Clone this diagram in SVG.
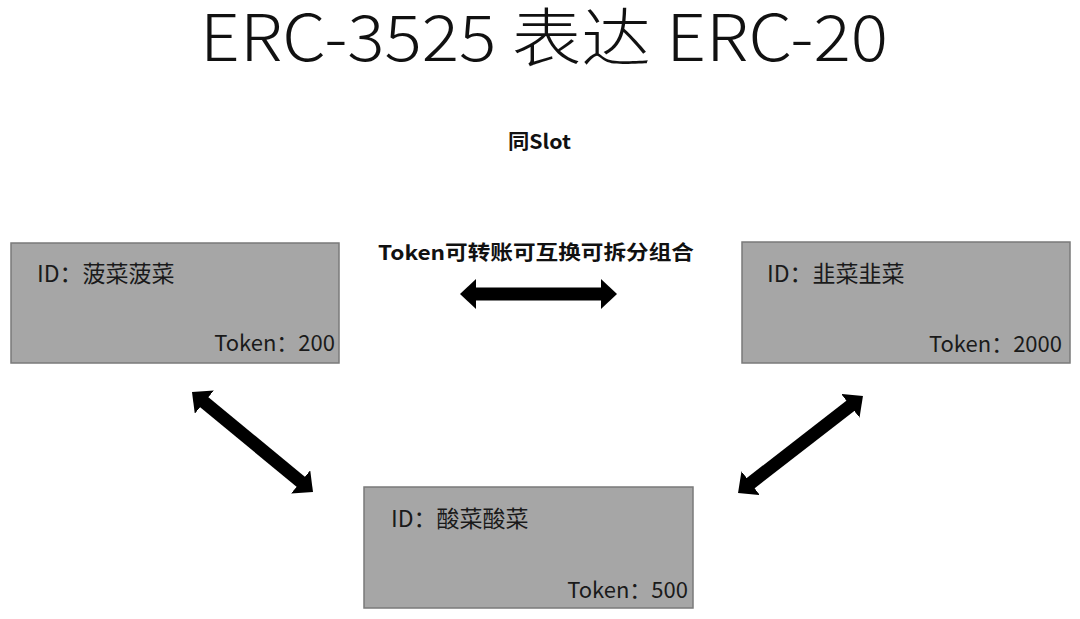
<svg xmlns="http://www.w3.org/2000/svg" width="1080" height="619" viewBox="0 0 1080 619">
<style>
.box{fill:#a6a6a6;stroke:#7a7a7a;stroke-width:1.5}
.t{font-family:"Noto Sans CJK SC","Liberation Sans",sans-serif;font-size:22px;fill:#1a1a1a}
.id{font-size:23px}
.b{font-family:"Noto Sans CJK SC","Liberation Sans",sans-serif;font-size:20px;font-weight:bold;fill:#111}
.title{font-family:"Noto Sans CJK SC","Liberation Sans",sans-serif;font-size:64px;font-weight:300;fill:#111}
.arr{stroke:#000;stroke-width:13;fill:none;marker-start:url(#head);marker-end:url(#head)}
</style>
<defs>
<marker id="head" markerUnits="userSpaceOnUse" markerWidth="18" markerHeight="32" refX="2" refY="15" orient="auto-start-reverse" viewBox="0 0 18 32">
<path d="M0,0 L16,15 L0,30 Z" fill="#000"/>
</marker>
</defs>
<rect width="1080" height="619" fill="#fff"/>
<text class="title" x="200" y="61" textLength="688" lengthAdjust="spacingAndGlyphs">ERC-3525 表达 ERC-20</text>
<text class="b" x="508" y="149" textLength="63" lengthAdjust="spacingAndGlyphs">同Slot</text>
<text class="b" x="378" y="260" textLength="316" lengthAdjust="spacingAndGlyphs">Token可转账可互换可拆分组合</text>
<g id="node-spinach">
<rect class="box" x="11" y="243" width="328" height="120"/>
<text class="t id" x="37" y="282">ID：菠菜菠菜</text>
<text class="t" x="335" y="351" text-anchor="end">Token：200</text>
</g>
<g id="node-leek">
<rect class="box" x="742" y="242" width="328" height="121"/>
<text class="t id" x="767" y="282">ID：韭菜韭菜</text>
<text class="t" x="1062" y="352" text-anchor="end">Token：2000</text>
</g>
<g id="node-pickle">
<rect class="box" x="364" y="487" width="329" height="121"/>
<text class="t id" x="391" y="527">ID：酸菜酸菜</text>
<text class="t" x="688" y="598" text-anchor="end">Token：500</text>
</g>
<g id="connectors">
<line class="arr" x1="474" y1="294" x2="603" y2="294"/>
<line class="arr" x1="202.8" y1="400.9" x2="302.2" y2="483.1"/>
<line class="arr" x1="851.9" y1="404.6" x2="749.1" y2="484.4"/>
</g>
</svg>
